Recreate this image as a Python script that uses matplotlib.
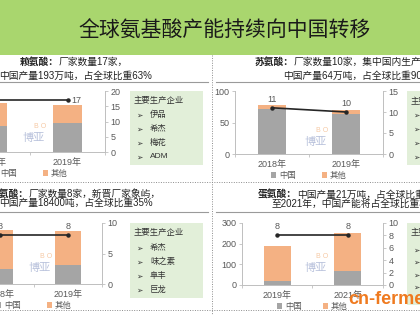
import matplotlib
matplotlib.use("Agg")
import matplotlib.pyplot as plt
from matplotlib.patches import Rectangle
import numpy as np

plt.rcParams['font.family'] = ['Liberation Sans', 'Noto Sans CJK SC', 'DejaVu Sans']

W, H = 420, 315
GRAY = '#a5a5a5'
ORANGE = '#f4b183'
TXT = '#595959'
SPINE = '#bfbfbf'
BOXGREEN = '#e2efd9'
HEADER = '#a9d66e'

# ---------------- data ----------------
title = '全球氨基酸产能持续向中国转移'

lys_years = ['2018年', '2019年']
lys_china = [170, 193]
lys_other = [150, 113]
lys_plants = [17, 17]
lys_companies = ['伊品', '希杰', '梅花', 'ADM']

thr_years = ['2018年', '2019年']
thr_china = [71, 64]
thr_other = [7, 6]
thr_plants = [11, 10]
thr_companies = ['梅花', '阜丰', '伊品', '希杰']

trp_years = ['2018年', '2019年']
trp_china = [15000, 18400]
trp_other = [38000, 34200]
trp_plants = [8, 8]
trp_companies = ['希杰', '味之素', '阜丰', '巨龙']

met_years = ['2019年', '2021年']
met_china = [21, 68]
met_other = [168, 184]
met_plants = [8, 8]
met_companies = ['赢创', '安迪苏', '新和成', '紫光']

legend_labels = ['中国', '其他']

fig = plt.figure(figsize=(W / 100, H / 100), dpi=100)
fig.patch.set_facecolor('white')


def fpos(x0, y0, x1, y1):
    return [x0 / W, 1 - y1 / H, (x1 - x0) / W, (y1 - y0) / H]


# background / decoration axes in pixel coordinates
bg = fig.add_axes([0, 0, 1, 1])
bg.set_xlim(0, W)
bg.set_ylim(H, 0)
bg.axis('off')
bg.set_zorder(0)

bg.add_patch(Rectangle((0, 0), W, 55, color=HEADER, lw=0))
bg.text(225, 31, title, ha='center', va='center', fontsize=15, color='#1a1a1a')

# separators
bg.plot([212, 212], [55, 315], ls=(0, (1, 1.5)), color='#8c8c8c', lw=0.7)
bg.plot([0, W], [182, 182], ls=(0, (1, 1.5)), color='#8c8c8c', lw=0.7)
bg.plot([0, W], [310, 310], ls=(0, (1, 1.5)), color='#8c8c8c', lw=0.7)
for yy in (82, 212):
    bg.plot([0, 208], [yy, yy], color='#9a9a9a', lw=0.8)
    bg.plot([216, W], [yy, yy], color='#9a9a9a', lw=0.8)


def two_part(x, y, bold, rest):
    t = bg.text(x, y, bold, ha='left', va='center', fontsize=7, fontweight='bold', color='#222222')
    bg.annotate(rest, xy=(1, 0.5), xycoords=t, ha='left', va='center', fontsize=7, color='#222222')


two_part(20, 62, '赖氨酸：', '厂家数量17家，')
bg.text(-1, 76, '中国产量193万吨，占全球比重63%', ha='left', va='center', fontsize=7, color='#222222')
two_part(255, 62, '苏氨酸：', '厂家数量10家，集中国内生产，')
bg.text(283, 76, '中国产量64万吨，占全球比重90%', ha='left', va='center', fontsize=7, color='#222222')
two_part(-10, 194, '色氨酸：', '厂家数量8家，新晋厂家象屿，')
bg.text(-1, 203, '中国产量18400吨，占全球比重35%', ha='left', va='center', fontsize=7, color='#222222')
two_part(258, 195, '蛋氨酸：', '中国产量21万吨，占全球比重12%，')
bg.text(272, 204, '至2021年，中国产能将占全球比重30%以上', ha='left', va='center', fontsize=7, color='#222222')


def company_box(x0, y0, x1, y1, items, ys):
    bg.add_patch(Rectangle((x0, y0), x1 - x0, y1 - y0, color=BOXGREEN, lw=0))
    bg.text(x0 + 4, ys[0], '主要生产企业', ha='left', va='center', fontsize=6, color='#333333')
    for name, yy in zip(items, ys[1:]):
        bg.text(x0 + 6, yy, '➢', ha='left', va='center', fontsize=5.5, color='#333333',
                family=['DejaVu Sans'])
        bg.text(x0 + 20, yy, name, ha='left', va='center', fontsize=6, color='#333333')


company_box(130, 91, 203, 165, lys_companies, [101, 115, 129, 143, 157])
company_box(407, 91, 440, 165, thr_companies, [102, 115, 129, 143, 157])
company_box(130, 223, 203, 298, trp_companies, [233, 248, 262, 276, 290])
company_box(407, 223, 440, 305, met_companies, [233, 250, 262, 275, 287])

# faint logo marks
for (lx, ly) in [(34, 138), (316, 142), (40, 268), (316, 268)]:
    bg.text(lx, ly, '博亚', ha='center', va='center', fontsize=8, color='#b9c2dc')
    bg.text(lx + 6, ly - 11, 'B O', ha='center', va='center', fontsize=5, color='#f6c9a4')


def panel(box, cats, china, other, lylim, lticks, rylim, rticks, line, lab_modes, colsp):
    x0, y0, x1, y1 = box
    hpx = y1 - y0
    ax = fig.add_axes(fpos(*box))
    ax.set_zorder(2)
    ax.patch.set_alpha(0)
    x = np.arange(len(cats))
    b1 = ax.bar(x, china, width=0.38, color=GRAY, lw=0)
    b2 = ax.bar(x, other, bottom=china, width=0.38, color=ORANGE, lw=0)
    ax.set_xlim(-0.5, 1.5)
    ax.set_ylim(*lylim)
    ax.set_yticks(lticks)
    ax.set_xticks(x)
    ax.set_xticklabels(cats)
    ax.set_xticks([-0.5, 0.5, 1.5], minor=True)
    ax.tick_params(axis='x', which='major', length=0, pad=4, labelsize=6.5, labelcolor=TXT)
    ax.tick_params(axis='x', which='minor', length=2.5, color=SPINE, width=0.6)
    ax.tick_params(axis='y', length=2.5, color=SPINE, width=0.6, pad=1.5, labelsize=6.5, labelcolor=TXT)
    for s in ('top', 'right'):
        ax.spines[s].set_visible(False)
    for s in ('left', 'bottom'):
        ax.spines[s].set_color(SPINE)
        ax.spines[s].set_linewidth(0.7)

    ax2 = ax.twinx()
    ax2.set_zorder(3)
    ax2.patch.set_alpha(0)
    ax2.set_ylim(*rylim)
    ax2.set_yticks(rticks)
    ax2.tick_params(axis='y', length=2.5, color=SPINE, width=0.6, pad=1.5, labelsize=6.5, labelcolor=TXT)
    for s in ('top', 'left', 'bottom'):
        ax2.spines[s].set_visible(False)
    ax2.spines['right'].set_color(SPINE)
    ax2.spines['right'].set_linewidth(0.7)
    ax2.plot(x, line, color='#262626', lw=1.2, marker='o', ms=2.2)
    for xi, v, mode in zip(x, line, lab_modes):
        if mode == 'right':
            ax2.annotate(str(v), (xi, v), xytext=(3, 0), textcoords='offset points',
                         ha='left', va='center', fontsize=6.5, color=TXT)
        elif mode == 'left':
            ax2.annotate(str(v), (xi, v), xytext=(-3, 0), textcoords='offset points',
                         ha='right', va='center', fontsize=6.5, color=TXT)
        else:
            ax2.annotate(str(v), (xi, v), xytext=(0, 3), textcoords='offset points',
                         ha='center', va='bottom', fontsize=6.5, color=TXT)

    ax.legend([b1, b2], legend_labels, loc='center', bbox_to_anchor=(0.5, -22 / hpx),
              ncol=2, frameon=False, fontsize=6, handlelength=0.6, handleheight=0.6,
              handletextpad=0.3, columnspacing=colsp, labelcolor=TXT)
    return ax, ax2


panel((-45, 91, 105, 152), lys_years, lys_china, lys_other, (0, 400), [0, 100, 200, 300, 400],
      (0, 20), [0, 5, 10, 15, 20], lys_plants, ['left', 'right'], 3.2)
panel((235, 91, 383, 154), thr_years, thr_china, thr_other, (0, 100), [0, 50, 100],
      (0, 15), [0, 5, 10, 15], thr_plants, ['above', 'above'], 3.2)
panel((-34, 223, 102, 284), trp_years, trp_china, trp_other, (0, 60000), [0, 20000, 40000, 60000],
      (0, 10), [0, 5, 10], trp_plants, ['above', 'above'], 3.2)
panel((242, 223, 383, 285), met_years, met_china, met_other, (0, 300), [0, 100, 200, 300],
      (0, 10), [0, 2, 4, 6, 8, 10], met_plants, ['above', 'above'], 2.6)

fig.text(348 / W, 1 - 299 / H, 'cn-fermentation.com', ha='left', va='center', fontsize=13,
         fontweight='bold', color='#ef7a1f', family=['Liberation Sans', 'DejaVu Sans'], zorder=10)

fig.savefig('out.png', dpi=100)
